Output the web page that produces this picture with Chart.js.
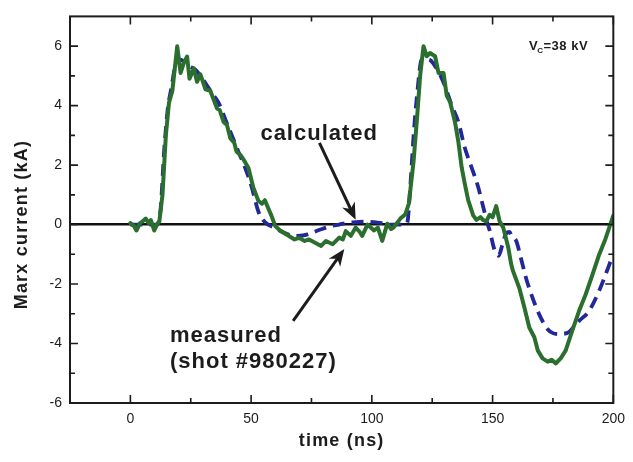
<!DOCTYPE html>
<html>
<head>
<meta charset="utf-8">
<script src="https://cdn.jsdelivr.net/npm/chart.js@4/dist/chart.umd.min.js"></script>
<style>
  html, body { margin: 0; padding: 0; background: #fff; }
  #wrap { width: 633px; height: 462px; }
</style>
</head>
<body>
<div id="wrap"><canvas id="chart"></canvas></div>
<script>
// measured Marx current (shot #980227): time (ns) and current (kA)
const measuredT = [0, 1.5, 2.5, 4, 5, 6.4, 7.5, 8.5, 9.9, 11, 12, 13.3, 14.7, 16, 17.4, 19.4, 20.8, 22.2, 23.5, 24.5,
  26.3, 27.6, 29, 31.1, 33.1, 35.9, 37, 38.6, 40, 41.4, 43, 44, 45.5, 46.8, 48.9, 50.9, 53, 54.5, 55.7, 58.4,
  60, 62, 64, 66, 68, 70, 72.2, 74, 76.3, 79, 81, 83.8, 86.5, 88, 89.2, 91.3, 93.3, 95, 96, 98.2,
  100.9, 102.5, 104.3, 106.4, 108, 109, 111.8, 113.9, 115.3, 116.2, 117.3, 118.7, 120, 121.4, 122.7, 124.1, 126.2, 127.6, 129.7, 131,
  132.4, 134.4, 135.8, 137.2, 138.5, 139.9, 142, 143.3, 145, 146, 147.4, 148.8, 150, 151.5, 152.9, 154.4, 156.5, 157.7, 158.4, 161.1,
  163.2, 165.2, 167.3, 168.7, 170.7, 172.8, 174.5, 176.2, 178.2, 180.3, 183, 185.8, 188.5, 191.3, 194, 196.7, 200]
const measuredI = [0.05, -0.05, -0.2, 0.05, 0.1, 0.2, 0.05, 0.15, -0.2, 0.0, 0.1, 1.0, 3.0, 4.1, 4.5, 6.0, 5.1, 5.45, 5.65, 4.9,
  5.25, 4.8, 5.05, 4.55, 4.5, 3.9, 3.85, 3.45, 3.35, 2.9, 2.75, 2.45, 2.35, 2.2, 1.9, 1.25, 0.8, 0.7, 0.82, 0.3,
  -0.05, -0.2, -0.3, -0.4, -0.5, -0.45, -0.55, -0.5, -0.6, -0.72, -0.55, -0.66, -0.44, -0.5, -0.22, -0.38, -0.1, -0.25, -0.38, 0.0,
  -0.2, -0.1, -0.55, 0.03, -0.15, -0.1, 0.2, 0.35, 0.7, 1.35, 2.14, 3.57, 5.0, 6.0, 5.66, 5.77, 5.66, 5.1, 5.1, 4.34,
  4.12, 3.46, 2.8, 1.92, 1.37, 0.82, 0.3, 0.16, 0.25, 0.16, 0.11, 0.33, 0.25, 0.62, 0.11, -0.1, -0.77, -1.33, -1.55, -2.14,
  -2.8, -3.46, -3.79, -4.23, -4.5, -4.61, -4.55, -4.67, -4.5, -4.23, -3.57, -2.91, -2.36, -1.7, -1.04, -0.49, 0.3]

// calculated Marx current
const calcT = [0, 11, 12.5, 14, 15.5, 17, 18.5, 20, 22, 24, 27, 29.5, 31.8, 34, 36.5, 39.5, 42.7, 45, 47.5, 50.2,
  53, 55, 57, 59.8, 63, 66, 69.4, 73.5, 76, 79, 82, 86.5, 90, 93.3, 97, 100.9, 104, 107.7, 112, 114.6,
  116, 117.3, 118.7, 120.7, 123.5, 126.2, 129.7, 133.1, 135.8, 138.5, 141.3, 144, 146.1, 148, 148.8, 150.8, 152.5, 154, 155.6, 157,
  158, 159.8, 161.8, 163.9, 166.6, 169.3, 172.7, 175, 177.5, 181.6, 183.5, 185.8, 189.9, 194, 196.7, 199.5, 200]
const calcI = [0, 0, 0.5, 2.5, 3.9, 4.6, 5.3, 5.55, 5.5, 5.35, 5.2, 4.95, 4.67, 4.4, 4.1, 3.5, 2.86, 2.4, 1.92, 1.27,
  0.44, 0.15, 0.0, -0.1, -0.25, -0.35, -0.38, -0.33, -0.25, -0.16, -0.08, 0, 0.06, 0.08, 0.1, 0.08, 0.05, 0, 0, 0.05,
  1.37, 3.0, 4.34, 5.55, 5.55, 5.33, 4.78, 4.0, 3.46, 2.58, 1.92, 1.27, 0.6, 0.0, -0.2, -0.85, -1.05, -0.7, -0.3, -0.25,
  -0.4, -0.55, -1.15, -1.81, -2.47, -3.02, -3.51, -3.65, -3.68, -3.62, -3.45, -3.24, -2.91, -2.25, -1.7, -1.1, -1.0]

const xTicks = [0, 50, 100, 150, 200]
const xMinor = [25, 75, 125, 175]
const yTicks = [-6, -4, -2, 0, 2, 4, 6]
const yMinor = [-5, -3, -1, 1, 3, 5]

const FONT = "'Liberation Sans', Arial, Helvetica, sans-serif"
const INK = '#1c1c1c'

function toPoints(ts, vs) {
  return ts.map((t, i) => ({ x: t, y: vs[i] }))
}

function arrow(ctx, x0, y0, x1, y1) {
  const ang = Math.atan2(y1 - y0, x1 - x0)
  const c = Math.cos(ang), s = Math.sin(ang)
  const head = 17, half = 7
  const bx = x1 - head * c, by = y1 - head * s
  ctx.beginPath()
  ctx.moveTo(x0, y0)
  ctx.lineTo(x1 - 10 * c, y1 - 10 * s)
  ctx.stroke()
  ctx.beginPath()
  ctx.moveTo(x1, y1)
  ctx.lineTo(bx + half * s, by - half * c)
  ctx.lineTo(x1 - 12 * c, y1 - 12 * s)
  ctx.lineTo(bx - half * s, by + half * c)
  ctx.closePath()
  ctx.fill()
}

// frame, inside ticks, axis titles and the labels with arrows
const decorations = {
  id: 'decorations',
  afterDatasetsDraw(chart) {
    const { ctx, chartArea: a, scales: { x, y } } = chart
    ctx.save()
    ctx.strokeStyle = INK
    ctx.fillStyle = INK

    ctx.lineWidth = 2
    ctx.strokeRect(a.left, a.top, a.right - a.left, a.bottom - a.top)

    ctx.lineWidth = 1.6
    ctx.beginPath()
    for (const v of xTicks.concat(xMinor)) {
      const px = x.getPixelForValue(v)
      const len = xTicks.includes(v) ? 8 : 5
      ctx.moveTo(px, a.bottom); ctx.lineTo(px, a.bottom - len)
      ctx.moveTo(px, a.top); ctx.lineTo(px, a.top + len)
    }
    for (const v of yTicks.concat(yMinor)) {
      const py = y.getPixelForValue(v)
      const len = yTicks.includes(v) ? 8 : 5
      ctx.moveTo(a.left, py); ctx.lineTo(a.left + len, py)
      ctx.moveTo(a.right, py); ctx.lineTo(a.right - len, py)
    }
    ctx.stroke()

    // axis titles
    ctx.font = 'bold 18px ' + FONT
    ctx.letterSpacing = '1.2px'
    ctx.textAlign = 'center'
    ctx.textBaseline = 'middle'
    ctx.fillText('time (ns)', (a.left + a.right) / 2, a.bottom + 38)
    ctx.save()
    ctx.translate(a.left - 48, y.getPixelForValue(0))
    ctx.rotate(-Math.PI / 2)
    ctx.fillText('Marx current (kA)', 0, 0)
    ctx.restore()

    // labels
    ctx.textBaseline = 'alphabetic'
    ctx.font = 'bold 22px ' + FONT
    ctx.letterSpacing = '1px'
    ctx.textAlign = 'center'
    ctx.fillText('calculated', x.getPixelForValue(78.2), y.getPixelForValue(2.86))
    ctx.textAlign = 'left'
    ctx.fillText('measured', x.getPixelForValue(16.4), y.getPixelForValue(-3.95))
    ctx.fillText('(shot #980227)', x.getPixelForValue(16.4), y.getPixelForValue(-4.82))

    ctx.lineWidth = 3
    arrow(ctx, x.getPixelForValue(78.3), y.getPixelForValue(2.75), x.getPixelForValue(93.3), y.getPixelForValue(0.16))
    arrow(ctx, x.getPixelForValue(67.4), y.getPixelForValue(-3.24), x.getPixelForValue(88.6), y.getPixelForValue(-0.82))

    // V_C = 38 kV
    let px = x.getPixelForValue(165.1)
    const py = y.getPixelForValue(5.88)
    ctx.font = 'bold 13px ' + FONT
    ctx.letterSpacing = '0.5px'
    ctx.fillText('V', px, py)
    px += ctx.measureText('V').width
    ctx.font = 'bold 8px ' + FONT
    ctx.fillText('C', px - 1, py + 3)
    px += ctx.measureText('C').width - 1
    ctx.font = 'bold 13px ' + FONT
    ctx.fillText('=38 kV', px, py)

    ctx.restore()
  }
}

new Chart(document.getElementById('chart'), {
  type: 'line',
  data: {
    datasets: [
      {
        label: 'measured',
        data: toPoints(measuredT, measuredI),
        borderColor: '#2b6f2e',
        borderWidth: 4,
        pointRadius: 0,
        tension: 0,
        borderJoinStyle: 'round',
        borderCapStyle: 'round'
      },
      {
        label: 'calculated',
        data: toPoints(calcT, calcI),
        borderColor: '#22279a',
        borderWidth: 3.8,
        borderDash: [12, 7],
        pointRadius: 0,
        cubicInterpolationMode: 'monotone'
      }
    ]
  },
  options: {
    responsive: true,
    maintainAspectRatio: false,
    animation: false,
    layout: { padding: { top: 8, right: 15, left: 0, bottom: 0 } },
    plugins: {
      legend: { display: false },
      tooltip: { enabled: false }
    },
    scales: {
      x: {
        type: 'linear',
        min: -25,
        max: 200,
        afterBuildTicks: s => { s.ticks = xTicks.map(v => ({ value: v })) },
        afterFit: s => { s.height = 59 },
        border: { display: false },
        grid: { display: false, drawTicks: false },
        ticks: { color: INK, padding: 8, maxRotation: 0, font: { family: FONT, size: 14 } }
      },
      y: {
        type: 'linear',
        min: -6,
        max: 7,
        afterBuildTicks: s => { s.ticks = yTicks.map(v => ({ value: v })) },
        afterFit: s => { s.width = 70 },
        border: { display: false },
        grid: {
          drawTicks: false,
          color: c => c.tick && c.tick.value === 0 ? '#111' : 'transparent',
          lineWidth: 2.5
        },
        ticks: { color: INK, padding: 8, font: { family: FONT, size: 14 } }
      }
    }
  },
  plugins: [decorations]
})
</script>
</body>
</html>
